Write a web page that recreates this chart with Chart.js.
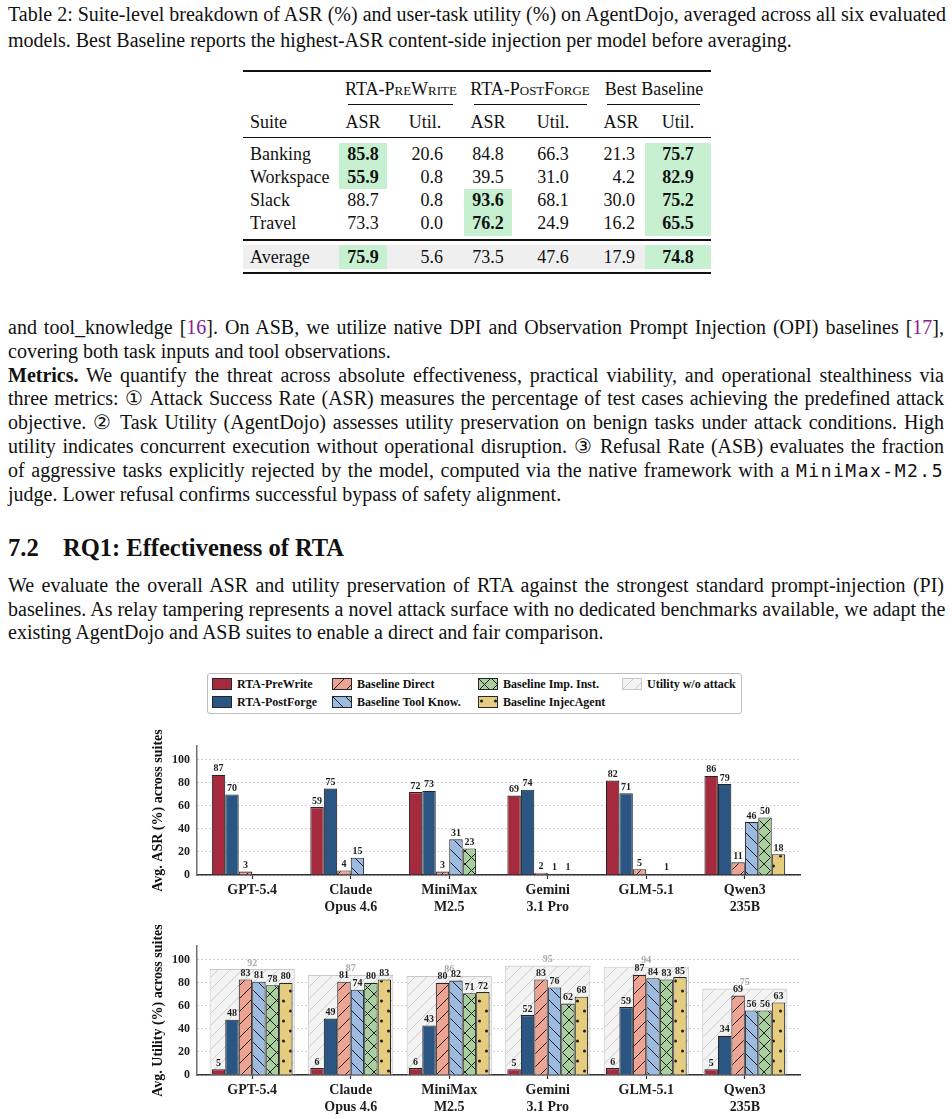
<!DOCTYPE html>
<html>
<head>
<meta charset="utf-8">
<script src="https://cdn.jsdelivr.net/npm/chart.js@4.4.1/dist/chart.umd.min.js"></script>
<style>
  body { margin: 0; width: 952px; height: 1119px; position: relative; overflow: hidden; background: #fff;
         font-family: 'Liberation Serif', 'Times New Roman', serif; color: #111; }
  .ln { position: absolute; left: 8px; width: 936px; height: 24px; font-size: 20px; line-height: 24px; white-space: nowrap; }
  .j { text-align: justify; text-align-last: justify; }
  .cite { color: #84208f; }
  .mono { font-family: 'DejaVu Sans Mono', monospace; font-size: 18px; letter-spacing: 1.5px; }
  .cell { position: absolute; height: 24px; line-height: 24px; font-size: 18px; white-space: nowrap; }
  .box { position: absolute; }
  .rule { position: absolute; background: #111; }
  .sc { font-variant: small-caps; }
  #legend { position: absolute; left: 207px; top: 673px; width: 533px; height: 39px; border: 1px solid #bdbdbd; border-radius: 3px; }
  .lg { position: absolute; font-size: 12px; font-weight: bold; line-height: 14px; white-space: nowrap; }
  .sw { position: absolute; }
  canvas.chart { position: absolute; left: 140px; }
</style>
</head>
<body>

<div class="ln j" style="top:2px">Table 2: Suite-level breakdown of ASR (%) and user-task utility (%) on AgentDojo, averaged across all six evaluated</div>
<div class="ln" style="top:28px">models. Best Baseline reports the highest-ASR content-side injection per model before averaging.</div>

<div id="table"></div>

<div class="ln j" style="top:315px">and tool_knowledge [<span class="cite">16</span>]. On ASB, we utilize native DPI and Observation Prompt Injection (OPI) baselines [<span class="cite">17</span>],</div>
<div class="ln" style="top:339px">covering both task inputs and tool observations.</div>
<div class="ln j" style="top:363px"><b>Metrics.</b> We quantify the threat across absolute effectiveness, practical viability, and operational stealthiness via</div>
<div class="ln j" style="top:386px">three metrics: ① Attack Success Rate (ASR) measures the percentage of test cases achieving the predefined attack</div>
<div class="ln j" style="top:410px">objective. ② Task Utility (AgentDojo) assesses utility preservation on benign tasks under attack conditions. High</div>
<div class="ln j" style="top:434px">utility indicates concurrent execution without operational disruption. ③ Refusal Rate (ASB) evaluates the fraction</div>
<div class="ln j" style="top:458px">of aggressive tasks explicitly rejected by the model, computed via the native framework with a <span class="mono">MiniMax-M2.5</span></div>
<div class="ln" style="top:482px">judge. Lower refusal confirms successful bypass of safety alignment.</div>

<div class="ln" style="top:534px; font-size:24.5px; font-weight:bold; height:28px; line-height:28px"><span>7.2</span><span style="position:absolute; left:55px">RQ1: Effectiveness of RTA</span></div>
<div class="ln j" style="top:573px">We evaluate the overall ASR and utility preservation of RTA against the strongest standard prompt-injection (PI)</div>
<div class="ln j" style="top:597px">baselines. As relay tampering represents a novel attack surface with no dedicated benchmarks available, we adapt the</div>
<div class="ln" style="top:620px">existing AgentDojo and ASB suites to enable a direct and fair comparison.</div>

<div id="legend"></div>

<canvas class="chart" id="asrChart" width="670" height="197" style="top:721px"></canvas>
<canvas class="chart" id="utilChart" width="670" height="203" style="top:916px"></canvas>

<script>
// ---- chart data ----
const models = [['GPT-5.4'], ['Claude', 'Opus 4.6'], ['MiniMax', 'M2.5'], ['Gemini', '3.1 Pro'], ['GLM-5.1'], ['Qwen3', '235B']];
const seriesNames = ['RTA-PreWrite', 'RTA-PostForge', 'Baseline Direct', 'Baseline Tool Know.', 'Baseline Imp. Inst.', 'Baseline InjecAgent'];
const noAttackName = 'Utility w/o attack';
const yTicks = [0, 20, 40, 60, 80, 100];

// Avg. ASR (%) across suites
const asrPreWrite    = [87, 59, 72, 69, 82, 86];
const asrPostForge   = [70, 75, 73, 74, 71, 79];
const asrDirect      = [3, 4, 3, 2, 5, 11];
const asrToolKnow    = [0, 15, 31, 1, 0, 46];
const asrImpInst     = [0, 0, 23, 1, 1, 50];
const asrInjecAgent  = [0, 0, 0, 0, 0, 18];

// Avg. Utility (%) across suites
const utilPreWrite   = [5, 6, 6, 5, 6, 5];
const utilPostForge  = [48, 49, 43, 52, 59, 34];
const utilDirect     = [83, 81, 80, 83, 87, 69];
const utilToolKnow   = [81, 74, 82, 76, 84, 56];
const utilImpInst    = [78, 80, 71, 62, 83, 56];
const utilInjecAgent = [80, 83, 72, 68, 85, 63];
const utilNoAttack   = [92, 87, 86, 95, 94, 75];

// ---- table data ----
const tableSuites = ['Banking', 'Workspace', 'Slack', 'Travel'];
const tableRows = [
  ['85.8', '20.6', '84.8', '66.3', '21.3', '75.7'],
  ['55.9', '0.8', '39.5', '31.0', '4.2', '82.9'],
  ['88.7', '0.8', '93.6', '68.1', '30.0', '75.2'],
  ['73.3', '0.0', '76.2', '24.9', '16.2', '65.5']
];
const tableAverage = ['75.9', '5.6', '73.5', '47.6', '17.9', '74.8'];
const tableBold = [[0, 0], [1, 0], [2, 2], [3, 2], [0, 5], [1, 5], [2, 5], [3, 5]];

// ---- build the table ----
const table = document.getElementById('table');
function put(html, x, y, align, bold) {
  const el = document.createElement('div');
  el.className = 'cell';
  el.innerHTML = html;
  el.style.top = (y - 12) + 'px';
  if (align === 'c') { el.style.left = (x - 60) + 'px'; el.style.width = '120px'; el.style.textAlign = 'center'; }
  else if (align === 'r') { el.style.left = (x - 120) + 'px'; el.style.width = '120px'; el.style.textAlign = 'right'; }
  else { el.style.left = x + 'px'; }
  if (bold) el.style.fontWeight = 'bold';
  table.appendChild(el);
}
function rect(cls, x1, y1, x2, y2, color) {
  const el = document.createElement('div');
  el.className = cls;
  el.style.left = x1 + 'px'; el.style.top = y1 + 'px';
  el.style.width = (x2 - x1) + 'px'; el.style.height = (y2 - y1) + 'px';
  if (color) el.style.background = color;
  table.appendChild(el);
}
const green = '#c7f0d1';
rect('box', 243, 245, 711, 269, '#efefef');
rect('box', 339, 143, 387, 189, green);
rect('box', 464, 189, 512, 236, green);
rect('box', 645, 143, 711, 236, green);
rect('box', 339, 245, 387, 269, green);
rect('box', 645, 245, 711, 269, green);
rect('rule', 243, 70, 711, 71.6);
rect('rule', 348, 104, 453, 105);
rect('rule', 474, 104, 587, 105);
rect('rule', 607, 104, 700, 105);
rect('rule', 243, 137, 711, 138);
rect('rule', 243, 239, 711, 240.6);
rect('rule', 243, 272, 711, 274);

put('<span class="sc">RTA-PreWrite</span>', 401, 89, 'c');
put('<span class="sc">RTA-PostForge</span>', 530, 89, 'c');
put('Best Baseline', 654, 89, 'c');
put('Suite', 250, 122, 'l');
[[363, 'ASR'], [425, 'Util.'], [488, 'ASR'], [553, 'Util.'], [621, 'ASR'], [678, 'Util.']]
  .forEach(([x, t]) => put(t, x, 122, 'c'));
const colAnchor = [[363, 'c'], [443, 'r'], [488, 'c'], [553, 'c'], [635, 'r'], [678, 'c']];
const rowY = [154, 177, 200, 223];
tableRows.forEach((row, r) => {
  put(tableSuites[r], 250, rowY[r], 'l');
  row.forEach((v, c) => {
    const bold = tableBold.some(([br, bc]) => br === r && bc === c);
    put(v, colAnchor[c][0], rowY[r], colAnchor[c][1], bold);
  });
});
put('Average', 250, 257, 'l');
tableAverage.forEach((v, c) => put(v, colAnchor[c][0], 257, colAnchor[c][1], c === 0 || c === 5));

// ---- bar fills ----
function hatchPattern(kind, fill, ink, w, h) {
  const c = document.createElement('canvas');
  c.width = w; c.height = h;
  const g = c.getContext('2d');
  g.fillStyle = fill; g.fillRect(0, 0, w, h);
  g.strokeStyle = ink; g.fillStyle = ink; g.lineWidth = 1;
  const line = (x1, y1, x2, y2) => { g.beginPath(); g.moveTo(x1, y1); g.lineTo(x2, y2); g.stroke(); };
  if (kind === '/' || kind === 'x') {
    line(-1, h + 1, w + 1, -1); line(-2, 2, 2, -2); line(w - 2, h + 2, w + 2, h - 2);
  }
  if (kind === '\\' || kind === 'x') {
    line(-1, -1, w + 1, h + 1); line(w - 2, -2, w + 2, 2); line(-2, h - 2, 2, h + 2);
  }
  if (kind === '.') {
    [[w / 4, h / 4], [3 * w / 4, 3 * h / 4]].forEach(([x, y]) => {
      g.beginPath(); g.arc(x, y, 1.5, 0, Math.PI * 2); g.fill();
    });
  }
  return g.createPattern(c, 'repeat');
}
const seriesFills = [
  '#a62a3e',
  '#2b5683',
  hatchPattern('/', '#eea493', '#1e1e1e', 13, 13),
  hatchPattern('\\', '#9dbbe0', '#1e1e1e', 13, 13),
  hatchPattern('x', '#a9cf9e', '#1e1e1e', 13, 13),
  hatchPattern('.', '#e6cc7e', '#1e1e1e', 14, 20)
];
const noAttackFill = hatchPattern('/', '#f3f3f3', '#cdcdcd', 12, 12);
const barEdge = '#262626';
const noAttackEdge = '#c9c9c9';

// ---- legend ----
const legend = document.getElementById('legend');
const legendItems = [
  [seriesNames[0], seriesFills[0], barEdge, 0, 0], [seriesNames[1], seriesFills[1], barEdge, 0, 1],
  [seriesNames[2], seriesFills[2], barEdge, 1, 0], [seriesNames[3], seriesFills[3], barEdge, 1, 1],
  [seriesNames[4], seriesFills[4], barEdge, 2, 0], [seriesNames[5], seriesFills[5], barEdge, 2, 1],
  [noAttackName, noAttackFill, noAttackEdge, 3, 0]
];
const legendColX = [4, 124, 270, 414];
const legendRowY = [10, 28];
legendItems.forEach(([name, fill, edge, col, row]) => {
  const sw = document.createElement('canvas');
  sw.width = 20; sw.height = 12; sw.className = 'sw';
  sw.style.left = legendColX[col] + 'px'; sw.style.top = (legendRowY[row] - 6) + 'px';
  const g = sw.getContext('2d');
  g.fillStyle = fill; g.fillRect(0.5, 0.5, 19, 11);
  g.strokeStyle = edge; g.lineWidth = 1; g.strokeRect(0.5, 0.5, 19, 11);
  legend.appendChild(sw);
  const t = document.createElement('div');
  t.className = 'lg'; t.textContent = name;
  t.style.left = (legendColX[col] + 25) + 'px'; t.style.top = (legendRowY[row] - 7) + 'px';
  legend.appendChild(t);
});

// ---- charts ----
Chart.defaults.font.family = "'Liberation Serif', 'Times New Roman', serif";
Chart.defaults.font.weight = 'bold';
Chart.defaults.color = '#1e1e1e';

const X_MIN = -0.56, X_MAX = 5.56, Y_MAX = 112;

const valueLabels = {
  id: 'valueLabels',
  afterDatasetsDraw(chart) {
    const ctx = chart.ctx;
    const sets = chart.data.datasets;
    const idx = sets.map((d, i) => i).sort((a, b) => (sets[b].order || 0) - (sets[a].order || 0));
    idx.forEach(i => {
      const ds = sets[i];
      chart.getDatasetMeta(i).data.forEach((bar, k) => {
        const v = ds.data[k].y;
        if (!v) return;
        ctx.save();
        ctx.font = "bold 10px 'Liberation Serif', serif";
        ctx.fillStyle = ds.labelColor || '#1e1e1e';
        ctx.textAlign = 'center';
        ctx.textBaseline = 'alphabetic';
        ctx.fillText(String(v), bar.x, bar.y - 3.5);
        ctx.restore();
      });
    });
  }
};

function seriesDatasets(values) {
  return values.map((vals, i) => ({
    label: seriesNames[i],
    data: vals.map((v, k) => ({ x: k, y: v })),
    backgroundColor: seriesFills[i],
    borderColor: barEdge,
    borderWidth: 1.1,
    categoryPercentage: 0.82,
    barPercentage: 1,
    order: 0
  }));
}

function chartOptions(title, topPad, xAxisHeight) {
  return {
    responsive: false,
    animation: false,
    layout: { padding: { top: topPad, right: 10, left: 0, bottom: 0 } },
    plugins: { legend: { display: false }, tooltip: { enabled: false } },
    scales: {
      x: {
        type: 'linear', min: X_MIN, max: X_MAX, offset: false, bounds: 'data', grace: 0,
        afterBuildTicks: s => { s.ticks = models.map((m, i) => ({ value: i })); },
        afterFit: s => { s.height = xAxisHeight; },
        grid: { display: true, offset: false, drawOnChartArea: false, drawTicks: true, tickLength: 4, tickColor: '#333', tickWidth: 1.2 },
        border: { color: '#333', width: 1.5 },
        ticks: { callback: v => models[v], font: { size: 14, weight: 'bold' }, color: '#1e1e1e', padding: 3, maxRotation: 0, autoSkip: false }
      },
      y: {
        min: 0, max: Y_MAX,
        afterBuildTicks: s => { s.ticks = yTicks.map(v => ({ value: v })); },
        afterFit: s => { s.width = 57; },
        grid: { color: '#bdbdbd', lineWidth: 0.9, drawTicks: false },
        border: { color: '#6e6e6e', width: 1.5, dash: [1.5, 2.5] },
        ticks: { font: { size: 12, weight: 'bold' }, color: '#1e1e1e', padding: 7 },
        title: { display: true, text: title, font: { size: 14, weight: 'bold' }, color: '#111', padding: { top: 10, bottom: 0 } }
      }
    }
  };
}

new Chart(document.getElementById('asrChart'), {
  type: 'bar',
  data: { datasets: seriesDatasets([asrPreWrite, asrPostForge, asrDirect, asrToolKnow, asrImpInst, asrInjecAgent]) },
  options: chartOptions('Avg. ASR (%) across suites', 25, 43),
  plugins: [valueLabels]
});

const utilSets = seriesDatasets([utilPreWrite, utilPostForge, utilDirect, utilToolKnow, utilImpInst, utilInjecAgent]);
utilSets.push({
  label: noAttackName,
  data: utilNoAttack.map((v, k) => ({ x: k, y: v })),
  backgroundColor: noAttackFill,
  borderColor: noAttackEdge,
  borderWidth: 1.1,
  grouped: false,
  categoryPercentage: 0.865,
  barPercentage: 1,
  order: 1,
  labelColor: '#a9a9a9'
});
new Chart(document.getElementById('utilChart'), {
  type: 'bar',
  data: { datasets: utilSets },
  options: chartOptions('Avg. Utility (%) across suites', 30, 44),
  plugins: [valueLabels]
});
</script>
</body>
</html>
